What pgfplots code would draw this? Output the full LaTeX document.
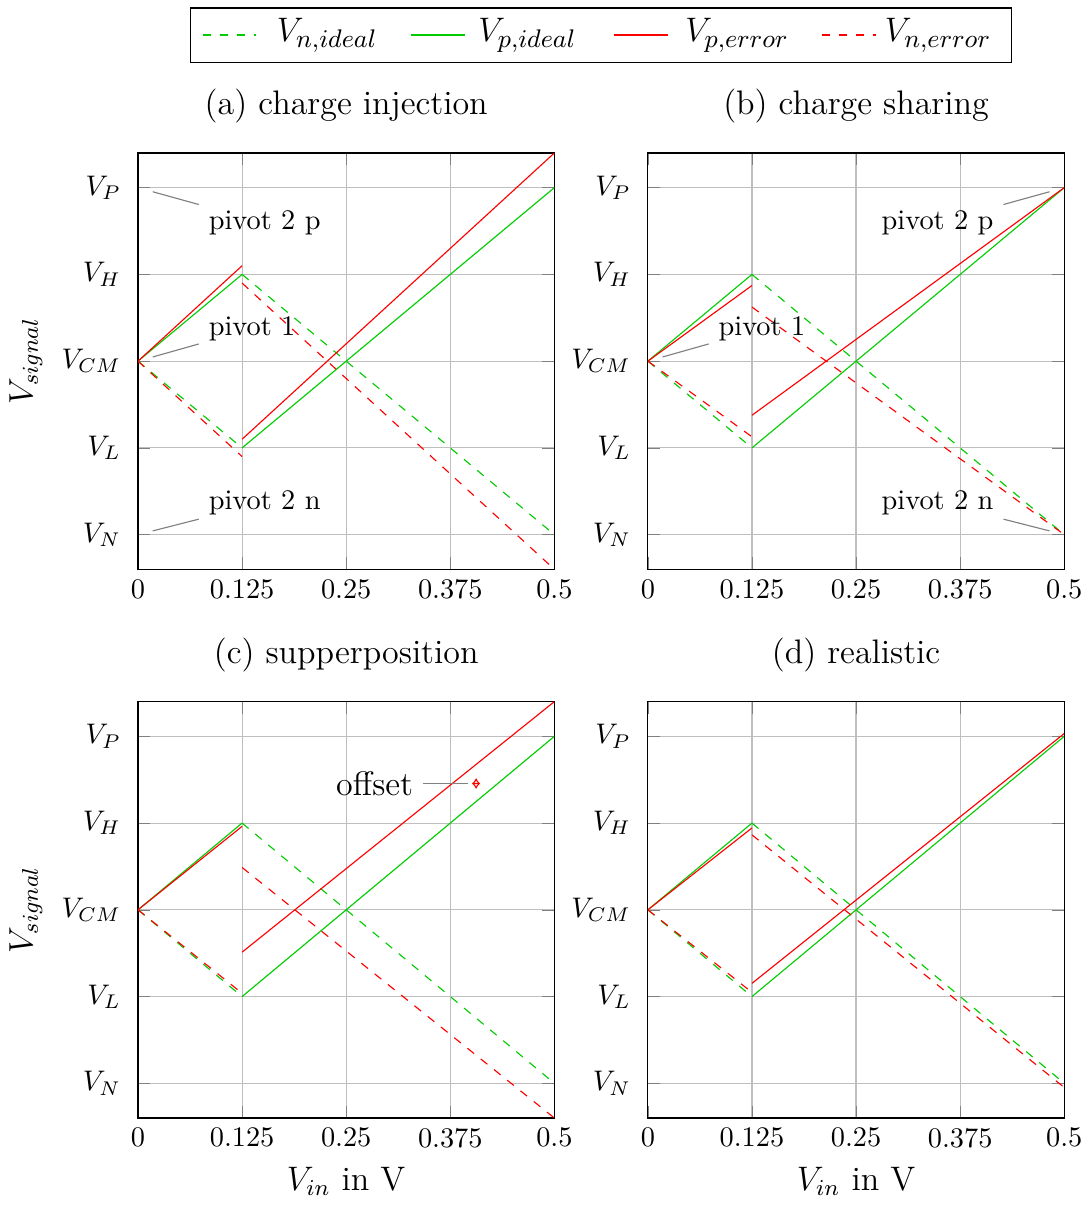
\documentclass[border=0pt]{standalone}
\usepackage{pgfplots}
\pgfplotsset{compat=1.18}
\usepgfplotslibrary{groupplots}
\usetikzlibrary{arrows.meta}
\definecolor{mygreen}{RGB}{0,204,0}
\begin{document}
\begin{tikzpicture}
\begin{groupplot}[
  group style={group size=2 by 2, horizontal sep=33pt, vertical sep=46.7pt},
  scale only axis, width=147pt, height=147pt,
  xmin=0, xmax=0.5, ymin=-0.3, ymax=0.3,
  xtick={0,0.125,0.25,0.375,0.5},
  xticklabels={0,0.125,0.25,0.375,0.5},
  ytick={-0.25,-0.125,0,0.125,0.25},
  yticklabels={$V_N$,$V_L$,$V_{CM}$,$V_H$,$V_P$},
  yticklabel style={xshift=-2.5pt},
  grid=major,
  title style={font=\large, yshift=1pt},
  label style={font=\large},
  unbounded coords=jump,
]
% (a)
\nextgroupplot[title={(a) charge injection}, ylabel={$V_{signal}$}]
\addplot[mygreen, dashed] coordinates {(0,0) (0.125,-0.125) (0.125,nan) (0.125,0.125) (0.5,-0.25)};
\addplot[mygreen] coordinates {(0,0) (0.125,0.125) (0.125,nan) (0.125,-0.125) (0.5,0.25)};
\addplot[red] coordinates {(0,0) (0.125,0.1375) (0.125,nan) (0.125,-0.1125) (0.5,0.3)};
\addplot[red, dashed] coordinates {(0,0) (0.125,-0.1375) (0.125,nan) (0.125,0.1125) (0.5,-0.3)};
\node[inner sep=0pt, minimum size=10pt, pin={[pin edge={gray,thin}, pin distance=17pt, yshift=2pt]-17:pivot 2 p}] at (axis cs:0,0.25) {};
\node[inner sep=0pt, minimum size=10pt, pin={[pin edge={gray,thin}, pin distance=17pt, yshift=-3pt]17:pivot 1}] at (axis cs:0,0) {};
\node[inner sep=0pt, minimum size=10pt, pin={[pin edge={gray,thin}, pin distance=17pt, yshift=-3pt]17:pivot 2 n}] at (axis cs:0,-0.25) {};
% (b)
\nextgroupplot[title={(b) charge sharing}]
\addplot[mygreen, dashed] coordinates {(0,0) (0.125,-0.125) (0.125,nan) (0.125,0.125) (0.5,-0.25)};
\addplot[mygreen] coordinates {(0,0) (0.125,0.125) (0.125,nan) (0.125,-0.125) (0.5,0.25)};
\addplot[red] coordinates {(0,0) (0.125,0.109) (0.125,nan) (0.125,-0.078) (0.5,0.25)};
\addplot[red, dashed] coordinates {(0,0) (0.125,-0.109) (0.125,nan) (0.125,0.078) (0.5,-0.25)};
\node[inner sep=0pt, minimum size=10pt, pin={[pin edge={gray,thin}, pin distance=17pt, yshift=2pt]197:pivot 2 p}] at (axis cs:0.5,0.25) {};
\node[inner sep=0pt, minimum size=10pt, pin={[pin edge={gray,thin}, pin distance=17pt, yshift=-3pt]17:pivot 1}] at (axis cs:0,0) {};
\node[inner sep=0pt, minimum size=10pt, pin={[pin edge={gray,thin}, pin distance=17pt, yshift=-3pt]163:pivot 2 n}] at (axis cs:0.5,-0.25) {};
% (c)
\nextgroupplot[title={(c) supperposition}, ylabel={$V_{signal}$}, xlabel={$V_{in}$ in V}]
\addplot[mygreen, dashed] coordinates {(0,0) (0.125,-0.125) (0.125,nan) (0.125,0.125) (0.5,-0.25)};
\addplot[mygreen] coordinates {(0,0) (0.125,0.125) (0.125,nan) (0.125,-0.125) (0.5,0.25)};
\addplot[red] coordinates {(0,0) (0.125,0.1203) (0.125,nan) (0.125,-0.061) (0.5,0.3)};
\addplot[red, dashed] coordinates {(0,0) (0.125,-0.1203) (0.125,nan) (0.125,0.061) (0.5,-0.3)};
\draw[red, {Latex[open,length=2.2pt,width=3.2pt]}-{Latex[open,length=2.2pt,width=3.2pt]}] (axis cs:0.406,0.174) -- (axis cs:0.406,0.190);
\node[inner sep=0pt, minimum size=5pt, pin={[pin edge={gray,thin}, pin distance=16pt, font=\large]180:offset}] at (axis cs:0.406,0.182) {};
% (d)
\nextgroupplot[title={(d) realistic}, xlabel={$V_{in}$ in V}]
\addplot[mygreen, dashed] coordinates {(0,0) (0.125,-0.125) (0.125,nan) (0.125,0.125) (0.5,-0.25)};
\addplot[mygreen] coordinates {(0,0) (0.125,0.125) (0.125,nan) (0.125,-0.125) (0.5,0.25)};
\addplot[red] coordinates {(0,0) (0.125,0.118) (0.125,nan) (0.125,-0.106) (0.5,0.254)};
\addplot[red, dashed] coordinates {(0,0) (0.125,-0.119) (0.125,nan) (0.125,0.108) (0.5,-0.256)};
\end{groupplot}
% legend
\draw[black, line width=0.5pt] ([xshift=18.6pt,yshift=31.9pt]group c1r1.north west) rectangle ([xshift=-18.6pt,yshift=51.2pt]group c2r1.north east);
\draw[mygreen, dashed, line width=0.7pt] ([xshift=22.8pt,yshift=41.5pt]group c1r1.north west) -- ++(19pt,0);
\node[anchor=west, inner sep=0pt, font=\fontsize{13}{15}\selectfont] at ([xshift=48.8pt,yshift=41.5pt]group c1r1.north west) {$V_{n,ideal}$};
\draw[mygreen, line width=0.7pt] ([xshift=96.5pt,yshift=41.5pt]group c1r1.north west) -- ++(19pt,0);
\node[anchor=west, inner sep=0pt, font=\fontsize{13}{15}\selectfont] at ([xshift=120pt,yshift=41.5pt]group c1r1.north west) {$V_{p,ideal}$};
\draw[red, line width=0.7pt] ([xshift=168pt,yshift=41.5pt]group c1r1.north west) -- ++(19pt,0);
\node[anchor=west, inner sep=0pt, font=\fontsize{13}{15}\selectfont] at ([xshift=193pt,yshift=41.5pt]group c1r1.north west) {$V_{p,error}$};
\draw[red, dashed, line width=0.7pt] ([xshift=241.4pt,yshift=41.5pt]group c1r1.north west) -- ++(19pt,0);
\node[anchor=west, inner sep=0pt, font=\fontsize{13}{15}\selectfont] at ([xshift=263.5pt,yshift=41.5pt]group c1r1.north west) {$V_{n,error}$};
\path ([yshift=54pt]group c1r1.north west);
\end{tikzpicture}
\end{document}
